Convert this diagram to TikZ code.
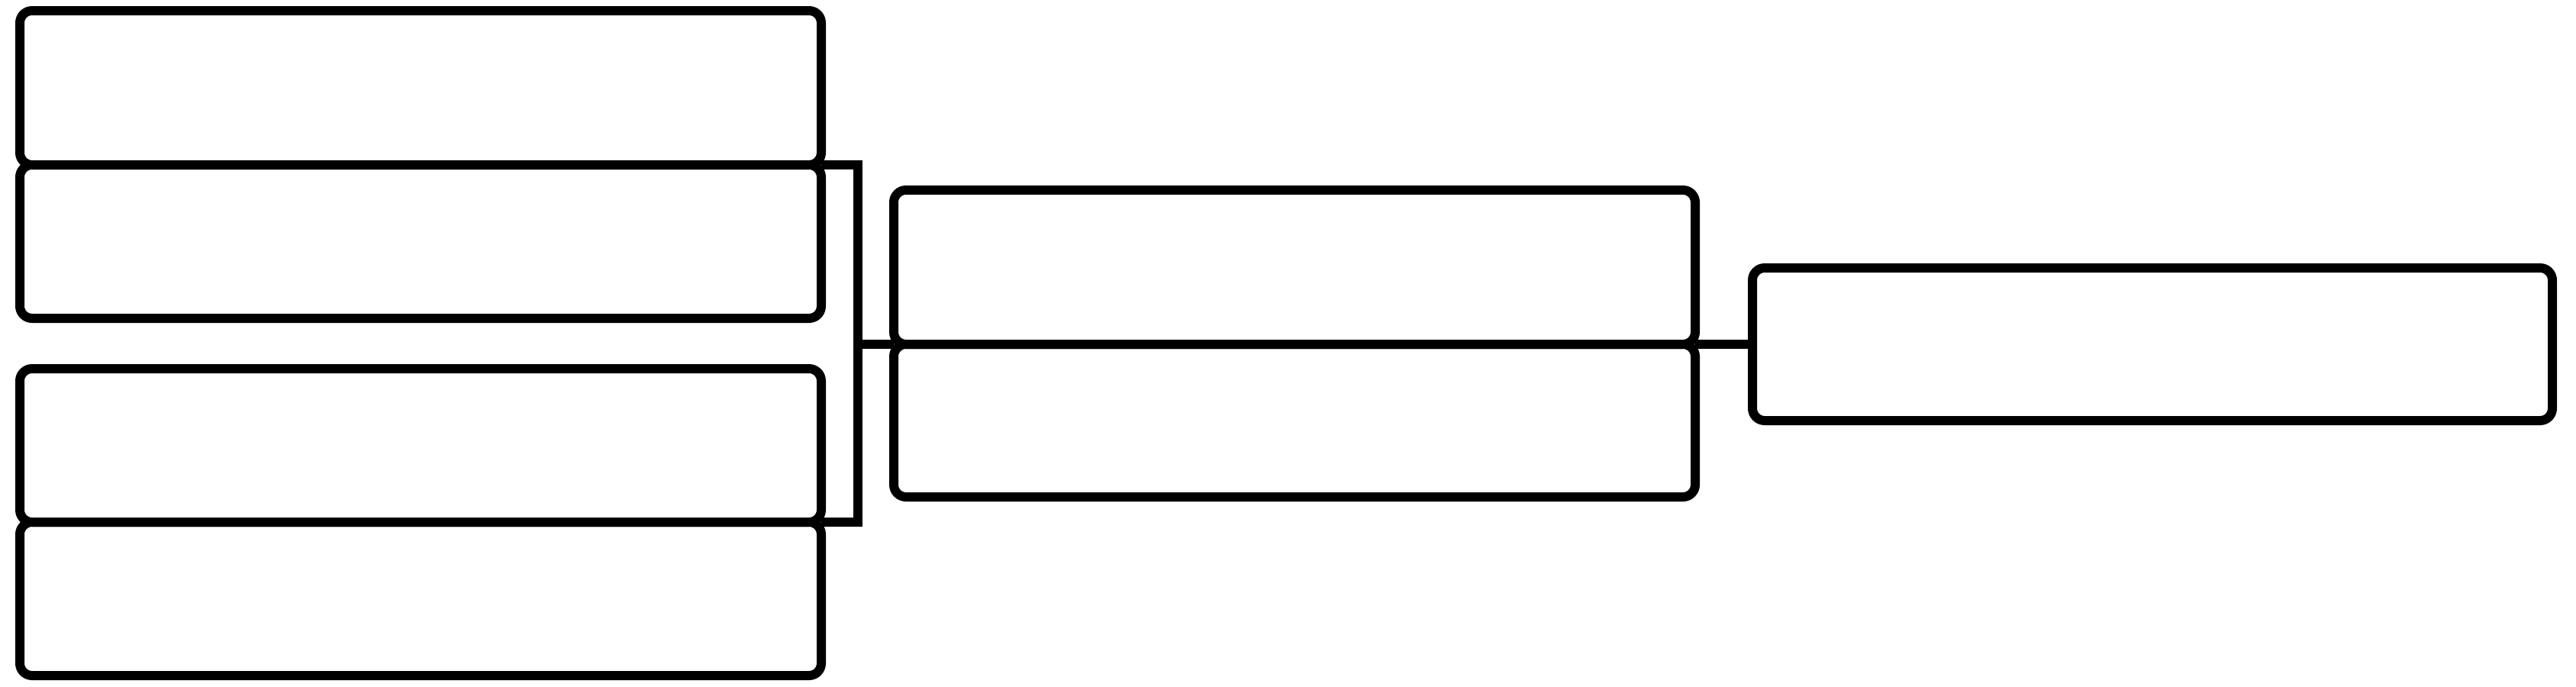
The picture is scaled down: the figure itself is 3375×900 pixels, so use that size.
\documentclass[tikz,border=0pt]{standalone}
\begin{document}
\begin{tikzpicture}[x=0.25pt,y=-0.25pt,
  box/.style={draw=black,line width=3pt,rounded corners=4pt,inner sep=0pt,outer sep=0pt,
    rectangle,minimum width=262.5pt,fill=none},
  conn/.style={draw=black,line width=3pt}]
\useasboundingbox (0,0) rectangle (3375,900);
\node[box,minimum height=50.5pt] (b1) at (551,115) {};
\node[box,minimum height=50.25pt] (b2) at (551,316.5) {};
\node[box,minimum height=50.25pt] (b3) at (551,583.5) {};
\node[box,minimum height=50.25pt] (b4) at (551,784.5) {};
\node[box,minimum height=50.5pt] (b5) at (1696,350) {};
\node[box,minimum height=50pt] (b6) at (1696,551) {};
\node[box,minimum height=50pt,minimum width=262pt] (b7) at (2820,451) {};
\coordinate (jt) at (1124,216);
\coordinate (jb) at (1124,684);
\coordinate (jm) at (1124,451);
\draw[conn] (b1.south east) -- (jt) -- (jb) -- (b4.north east);
\draw[conn] (jm) -- (b5.south west);
\draw[conn] (b5.south east) -- (b7.west);
\end{tikzpicture}
\end{document}
